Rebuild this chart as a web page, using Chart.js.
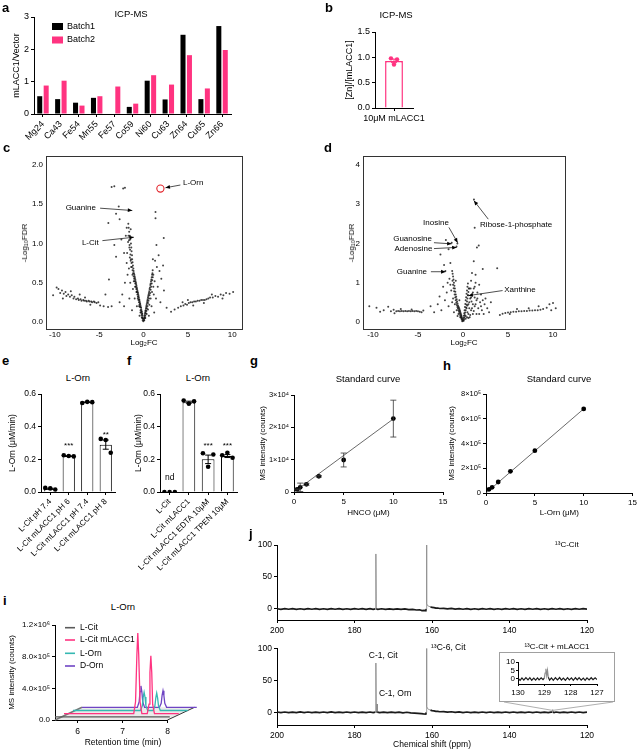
<!DOCTYPE html>
<html><head><meta charset="utf-8">
<script src="https://cdn.jsdelivr.net/npm/chart.js@4.4.1/dist/chart.umd.min.js"></script>
<style>
html,body{margin:0;padding:0;background:#fff;}
#root{position:relative;width:639px;height:750px;overflow:hidden;font-family:"Liberation Sans",Arial,Helvetica,sans-serif;background:#fff;}
canvas{position:absolute;}
.t{position:absolute;white-space:nowrap;line-height:1;color:#000;}
.rot{position:absolute;white-space:nowrap;line-height:1;color:#000;transform:translate(-50%,-50%) rotate(-90deg);}
.frame{position:absolute;border:1px solid #a0a0a0;box-sizing:border-box;}
</style></head><body><div id="root"></div>
<script>
// ---------------- DATA ----------------
// a: ICP-MS
const icpElements = ['Mg24','Ca43','Fe54','Mn55','Fe57','Co59','Ni60','Cu63','Zn64','Cu65','Zn66'];
const batch1 = [0.55,0.46,0.35,0.50,0,0.22,1.03,0.45,2.45,0.46,2.72];
const batch2 = [0.88,1.03,0.26,0.55,0.85,0.32,1.20,0.91,1.82,0.79,1.98];
const aYTicks = [0,1,2,3];
// b: [Zn]/[mLACC1]
const zLabel = ['10μM mLACC1'];
const zMean = [0.93];
const zSem = [0.035];
const zReps = [0.98,0.96,0.86];
const bYTicks = [0,0.5,1,1.5];
const bYLabels = ['0.0','0.5','1.0','1.5'];
// c: volcano 1  [log2FC, -log10FDR]
const cPts = [
[-9.8,0.44],[-9.6,0.42],[-9.4,0.37],[-9.2,0.40],[-9.0,0.36],[-8.8,0.38],[-8.7,0.33],[-8.5,0.35],[-8.3,0.32],[-8.1,0.34],[-7.9,0.30],[-7.8,0.32],[-7.6,0.29],[-7.4,0.30],[-7.3,0.28],[-7.1,0.29],[-7.0,0.27],[-6.8,0.28],[-6.7,0.27],[-6.5,0.27],[-6.4,0.26],[-6.2,0.27],[-6.1,0.26],[-5.9,0.26],[-5.8,0.25],[-5.6,0.26],[-5.5,0.25],[-5.3,0.24],[-5.1,0.25],[-4.9,0.21],[-4.5,0.2],[-4.0,0.19],[-3.6,0.2],[-9.1,0.30],[-8.2,0.39],[-7.2,0.35],[-6.6,0.31],[-6.0,0.22],[-10.2,0.34],
[3.1,0.13],[3.5,0.16],[3.9,0.18],[4.2,0.2],[4.5,0.21],[4.7,0.23],[4.9,0.22],[5.1,0.24],[5.3,0.25],[5.5,0.25],[5.7,0.26],[5.9,0.26],[6.1,0.27],[6.3,0.27],[6.5,0.28],[6.7,0.28],[6.9,0.28],[7.1,0.29],[7.3,0.3],[7.5,0.31],[7.8,0.31],[8.1,0.33],[8.4,0.32],[8.7,0.35],[9.0,0.34],[9.3,0.37],[9.7,0.36],[10.1,0.38],[4.4,0.25],[5.6,0.21],[6.8,0.24],[7.7,0.35],[8.9,0.3],[5.0,0.28],
[-0.03,0.01],[-0.06,0.04],[-0.09,0.05],[-0.12,0.08],[-0.14,0.1],[-0.17,0.11],[-0.2,0.13],[-0.23,0.14],[-0.26,0.16],[-0.28,0.18],[-0.32,0.19],[-0.35,0.21],[-0.38,0.23],[-0.41,0.24],[-0.44,0.26],[-0.47,0.28],[-0.5,0.29],[-0.53,0.31],[-0.56,0.33],[-0.6,0.35],[-0.63,0.37],[-0.66,0.38],[-0.7,0.4],[-0.73,0.42],[-0.76,0.44],[-0.8,0.46],[-0.83,0.48],[-0.86,0.5],[-0.9,0.52],[-0.93,0.54],[-0.97,0.56],[-1.0,0.58],[-1.04,0.6],[-1.08,0.62],[-1.12,0.65],[-1.15,0.68],[-1.2,0.72],[-1.24,0.76],[-1.28,0.8],[-1.3,0.85],[-1.35,0.9],[-1.38,0.95],[-1.42,1.0],[-1.5,1.05],[-1.55,1.1],[-1.62,1.15],[-1.68,1.2],[-1.72,1.25],
[-0.1,0.02],[-0.16,0.05],[-0.22,0.09],[-0.28,0.12],[-0.34,0.15],[-0.4,0.19],[-0.46,0.22],[-0.52,0.25],[-0.58,0.28],[-0.64,0.32],[-0.7,0.35],[-0.76,0.38],[-0.82,0.42],[-0.88,0.45],[-0.94,0.49],[-1.0,0.52],[-1.06,0.55],[-1.12,0.58],[-1.18,0.62],[-1.24,0.66],[-1.3,0.7],[-1.36,0.75],[-1.42,0.8],[-1.48,0.86],[-1.52,0.92],[-1.58,0.98],[-1.64,1.04],[-1.7,1.1],
[-0.2,0.06],[-0.35,0.12],[-0.5,0.2],[-0.65,0.3],[-0.8,0.38],[-0.95,0.45],[-1.1,0.52],[-1.25,0.6],[-1.4,0.7],[-1.55,0.82],[-1.6,0.95],[-1.75,1.02],[-1.85,0.88],[-1.45,0.78],[-1.65,0.68],[-1.9,0.75],[-1.2,0.42],[-1.0,0.3],[-0.75,0.2],[-0.45,0.08],[-1.5,0.5],[-1.8,0.6],[-2.1,0.5],[-2.4,0.35],[-2.2,0.2],[-1.6,0.3],[-2.7,0.25],[-1.3,0.15],[-2.0,1.1],[-1.9,1.2],[-1.45,1.18],
[0.03,0.02],[0.06,0.04],[0.09,0.06],[0.12,0.08],[0.15,0.1],[0.18,0.12],[0.21,0.14],[0.24,0.15],[0.27,0.17],[0.3,0.19],[0.33,0.21],[0.36,0.23],[0.4,0.25],[0.43,0.27],[0.46,0.29],[0.5,0.31],[0.53,0.33],[0.57,0.35],[0.6,0.37],[0.64,0.39],[0.68,0.42],[0.72,0.44],[0.76,0.47],[0.8,0.49],[0.84,0.52],[0.88,0.54],[0.92,0.57],[0.96,0.6],[1.0,0.62],[1.03,0.66],
[0.08,0.02],[0.14,0.05],[0.2,0.08],[0.26,0.11],[0.32,0.14],[0.38,0.17],[0.44,0.2],[0.5,0.24],[0.56,0.27],[0.62,0.3],[0.68,0.34],[0.74,0.37],[0.8,0.41],[0.86,0.45],[0.92,0.49],[0.98,0.53],[1.04,0.57],[1.1,0.6],
[0.2,0.05],[0.35,0.1],[0.5,0.16],[0.65,0.22],[0.8,0.3],[0.95,0.38],[1.1,0.45],[1.25,0.52],[1.15,0.35],[0.9,0.2],[0.6,0.08],[1.4,0.3],[1.6,0.45],[1.8,0.65],[1.5,0.7],[1.3,0.78],[1.7,0.85],[2.0,0.55],[2.3,0.4],[1.9,0.25],[2.6,0.18],[1.2,0.12],[2.2,0.72],[1.05,0.8],
[-3.6,1.72],[-3.3,1.73],[-2.3,1.7],[-2.1,1.71],[-2.8,1.47],[-2.7,1.31],[-3.1,1.38],[-3.97,1.26],[-3.3,0.98],[-3.1,0.83],[-3.9,0.54],[-4.3,0.35],[1.35,1.4],[1.35,1.32],[2.28,1.07],[1.45,0.98],[-2.5,1.05],[-2.2,0.88]
];
const cHighlight = [1.9,1.70];
const volXTicks = [-10,-5,0,5,10];
const cYTicks = [0,0.5,1,1.5,2];
const cYLabels = ['0.0','0.5','1.0','1.5','2.0'];
// d: volcano 2
const dPts = [
[-10.4,0.4],[-9.6,0.36],[-9.2,0.26],[-8.8,0.3],[-8.3,0.39],[-8.0,0.27],[-7.7,0.31],[-7.4,0.27],[-7.2,0.28],[-7.0,0.27],[-6.8,0.28],[-6.6,0.27],[-6.4,0.28],[-6.2,0.27],[-6.0,0.28],[-5.8,0.27],[-5.6,0.28],[-5.4,0.27],[-5.2,0.28],[-5.0,0.27],[-4.8,0.26],[-4.6,0.25],[-4.4,0.29],[-7.6,0.22],[-6.9,0.33],[-5.7,0.32],
[4.1,0.18],[4.4,0.21],[4.7,0.23],[5.0,0.24],[5.3,0.25],[5.6,0.26],[5.9,0.26],[6.2,0.27],[6.5,0.27],[6.8,0.28],[7.1,0.28],[7.4,0.29],[7.7,0.29],[8.0,0.3],[8.3,0.3],[8.6,0.31],[8.9,0.33],[9.3,0.36],[9.6,0.45],[10.0,0.48],[9.8,0.3],[8.4,0.4],[7.3,0.35],[6.0,0.33],[5.2,0.2],[10.3,0.35],
[-0.03,0.03],[-0.06,0.06],[-0.1,0.09],[-0.13,0.12],[-0.17,0.15],[-0.2,0.18],[-0.24,0.21],[-0.28,0.24],[-0.32,0.27],[-0.36,0.3],[-0.4,0.33],[-0.45,0.36],[-0.5,0.39],[-0.55,0.42],[-0.6,0.47],[-0.65,0.52],[-0.7,0.58],[-0.75,0.64],[-0.8,0.7],[-0.85,0.77],[-0.9,0.85],[-0.95,0.92],[-1.0,1.0],[-1.05,1.08],[-1.1,1.16],[-1.15,1.23],[-1.2,1.3],
[-0.08,0.02],[-0.14,0.06],[-0.2,0.1],[-0.26,0.14],[-0.32,0.18],[-0.38,0.22],[-0.44,0.26],[-0.5,0.3],[-0.56,0.34],[-0.62,0.38],[-0.68,0.43],[-0.74,0.49],[-0.8,0.55],[-0.86,0.62],[-0.92,0.7],[-0.98,0.78],[-1.04,0.86],[-1.1,0.95],[-1.16,1.05],
[-0.3,0.12],[-0.5,0.2],[-0.7,0.3],[-0.9,0.45],[-1.1,0.6],[-1.3,0.8],[-1.4,0.95],[-1.2,0.5],[-1.6,0.4],[-2.0,0.55],[-2.4,0.3],[-1.8,0.75],[-2.2,0.9],[-2.8,0.45],[-3.2,0.25],[-1.5,1.1],[-0.6,0.15],[-1.0,0.25],[-2.6,0.65],[-1.7,1.0],[-3.6,0.4],[-0.4,0.55],[-0.8,1.05],
[0.03,0.04],[0.07,0.1],[0.1,0.16],[0.14,0.22],[0.18,0.3],[0.22,0.38],[0.26,0.46],[0.3,0.55],[0.35,0.63],[0.4,0.72],[0.45,0.8],[0.5,0.9],[0.55,0.98],
[0.08,0.03],[0.12,0.07],[0.16,0.12],[0.2,0.18],[0.25,0.24],[0.3,0.3],[0.35,0.37],[0.4,0.44],[0.45,0.52],[0.5,0.6],[0.55,0.68],[0.6,0.76],[0.65,0.85],[0.3,0.08],[0.45,0.12],[0.6,0.1],[0.8,0.18],[1.0,0.35],[1.2,0.28],[1.4,0.45],[0.7,0.5],[0.9,0.62],[1.1,0.75],[1.3,0.9],[1.6,0.6],[1.8,0.2],[2.0,0.4],[2.2,0.55],[0.5,0.42],[0.85,0.85],
[0.3,0.15],[0.5,0.25],[0.7,0.35],[0.9,0.3],[1.1,0.45],[1.3,0.4],[1.5,0.55],[0.8,0.6],[1.0,0.7],[1.2,0.85],[0.6,0.45],[1.7,0.35],[1.9,0.5],[2.1,0.3],[2.4,0.45],[2.7,0.35],[2.9,0.25],[1.6,0.75],[2.0,0.7],[1.4,1.0],[0.9,1.05],[0.7,0.85],[1.1,0.2],[1.5,0.2],[2.3,0.2],[0.4,0.35],[0.6,0.2],[1.8,0.95],[2.5,0.6],[3.1,0.5],[1.3,0.62],[0.95,0.52],[0.75,0.12],
[-1.9,2.09],[-2.5,1.72],[-1.6,1.85],[-1.25,2.02],[-0.62,2.0],[-0.72,1.92],[-1.95,1.3],[-1.4,1.5],[-2.1,1.45],[1.22,3.12],[1.3,2.4],[1.55,1.9],[1.75,1.95],[1.2,1.55],[2.2,1.35],[3.8,1.37],[1.0,1.25],[1.4,1.2],[0.55,0.68]
];
const dYTicks = [0,1,2,3,4];
// e: L-Orn vs pH
const eLabels = ['L-Cit pH 7.4','L-Cit mLACC1 pH 6','L-Cit mLACC1 pH 7.4','L-Cit mLACC1 pH 8'];
const eMean = [0.02,0.22,0.55,0.29];
const eSem = [0.003,0.002,0.002,0.028];
const eReps = [[0.025,0.022,0.015],[0.225,0.22,0.218],[0.545,0.552,0.55],[0.325,0.318,0.24]];
// f: L-Orn with chelators
const fLabels = ['L-Cit','L-Cit mLACC1','L-Cit mLACC1 EDTA 10μM','L-Cit mLACC1 TPEN 10μM'];
const fMean = [0,0.55,0.20,0.22];
const fSem = [0,0.006,0.026,0.009];
const fReps = [[0,0,0],[0.56,0.54,0.555],[0.237,0.155,0.23],[0.225,0.24,0.21]];
const efYTicks = [0,0.2,0.4,0.6];
const efYLabels = ['0.0','0.2','0.4','0.6'];
// g: HNCO standard curve
const gConc = [0.3125,0.625,1.25,2.5,5,10];
const gMean = [800,1450,2380,4850,9900,22700];
const gErr = [150,1300,300,250,2150,5700];
const gFit = [[0,0],[10,22600]];
const gYTicks = [0,10000,20000,30000];
const gYLabels = ['0','1×10⁴','2×10⁴','3×10⁴'];
const ghXTicks = [0,5,10,15];
// h: L-Orn standard curve
const hConc = [0.3125,0.625,1.25,2.5,5,10];
const hMean = [30000,46000,89000,175000,342000,679000];
const hFit = [[0,0],[10,680000]];
const hYTicks = [0,200000,400000,600000,800000];
const hYLabels = ['0','2×10⁵','4×10⁵','6×10⁵','8×10⁵'];
// i: chromatograms [retention time (min), intensity]
const lCitTrace = [[5.5,0],[6.5,0],[7.5,0],[8.05,0]];
const lCitMTrace = [[5.5,0],[7.05,0],[7.09,150000],[7.12,750000],[7.14,1020000],[7.16,750000],[7.19,150000],[7.23,0],[7.35,0],[7.39,120000],[7.41,520000],[7.43,730000],[7.45,520000],[7.47,120000],[7.51,0],[8.05,0]];
const lOrnTrace = [[5.5,0],[7.0,0],[7.04,60000],[7.06,170000],[7.08,230000],[7.10,170000],[7.12,60000],[7.16,0],[7.28,0],[7.32,60000],[7.34,160000],[7.36,220000],[7.38,160000],[7.40,60000],[7.44,0],[8.05,0]];
const dOrnTrace = [[5.5,0],[6.73,0],[6.77,70000],[6.79,200000],[6.81,270000],[6.83,200000],[6.85,70000],[6.89,0],[7.22,0],[7.26,50000],[7.28,150000],[7.30,210000],[7.32,150000],[7.34,50000],[7.38,0],[8.05,0]];
const iNames = ['L-Cit','L-Cit mLACC1','L-Orn','D-Orn'];
const iYTicks = [0,400000,800000,1200000];
const iYLabels = ['0.0','4.0×10⁵','8.0×10⁵','1.2×10⁶'];
const iXTicks = [6,7,8];
// j: 13C NMR [ppm, intensity]
const nmrTop = [[200,0.4],[199,-0.5],[198,0.6],[197,-0.4],[196,0.5],[195,-0.6],[194,0.4],[193,-0.5],[192,0.6],[191,-0.4],[190,0.5],[189,-0.5],[188,0.4],[187,-0.6],[186,0.5],[185,-0.4],[184,0.6],[183,-0.5],[182,0.4],[181,-0.6],[180,0.5],[179,-0.4],[178,0.5],[177,-0.6],[176,0.4],[175.2,-0.5],[174.6,0.2],[174.48,86],[174.38,0.1],[174,-0.5],[173,0.4],[172,-0.6],[171,0.3],[170,-0.6],[169,0.3],[168,-0.7],[167,0.2],[166,-0.9],[165,-0.5],[164,-1.6],[163.2,-1.2],[162.6,-2.4],[162,-2.1],[161.6,-2.8],[161.5,0],[161.42,100],[161.32,8],[161.1,5],[160.8,4.2],[160.4,3.4],[160,2.4],[159.5,2.2],[159,1.4],[158.5,1.5],[158,0.8],[157,1.0],[156,0.2],[155,0.8],[154,-0.2],[153,0.6],[152,-0.4],[151,0.5],[150,-0.5],[149,0.4],[148,-0.5],[147,0.5],[146,-0.4],[145,0.5],[144,-0.5],[143,0.4],[142,-0.5],[141,0.5],[140,-0.4],[139,0.5],[138,-0.5],[137,0.4],[136,-0.5],[135,0.5],[134,-0.4],[133,0.5],[132,-0.5],[131,0.4],[130,-0.5],[129,0.5],[128,-0.4],[127,0.5],[126,-0.5],[125,0.4],[124,-0.5],[123,0.5],[122,-0.4],[121,0.5],[120,-0.3]];
const nmrBottom = [[200,0.5],[199,-0.4],[198,0.5],[197,-0.6],[196,0.4],[195,-0.5],[194,0.6],[193,-0.4],[192,0.5],[191,-0.6],[190,0.4],[189,-0.5],[188,0.5],[187,-0.4],[186,0.6],[185,-0.5],[184,0.4],[183,-0.6],[182,0.5],[181,-0.4],[180,0.5],[179,-0.6],[178,0.4],[177,-0.5],[176,0.5],[175.2,-0.4],[174.6,0.3],[174.48,77],[174.38,0.5],[174.26,1.2],[174.18,13],[174.1,0.4],[173.5,-0.5],[172.5,0.4],[171.5,-0.6],[170.5,0.3],[169.5,-0.6],[168.5,0.2],[167.5,-0.7],[166.5,0.1],[165.5,-0.9],[164.5,-1.2],[163.6,-1.5],[162.8,-2.0],[162.2,-2.5],[161.6,-2.9],[161.5,0],[161.42,100],[161.32,9],[161.1,5.5],[160.8,4.4],[160.4,3.5],[160,2.6],[159.5,2.3],[159,1.5],[158.5,1.6],[158,0.9],[157,1.1],[156,0.3],[155,0.9],[154,-0.2],[153,0.6],[152,-0.4],[151,0.5],[150,-0.5],[149,0.4],[148,-0.5],[147,0.5],[146,-0.4],[145,0.5],[144,-0.5],[143,0.4],[142,-0.5],[141,0.5],[140,-0.4],[139,0.5],[138,-0.5],[137,0.4],[136,-0.5],[135,0.5],[134,-0.4],[133,0.5],[132,-0.5],[131,0.4],[130,-0.5],[129.3,0.4],[128.98,0.3],[128.9,4.2],[128.82,0.3],[128.5,-0.4],[128,0.5],[127,-0.5],[126,0.4],[125,-0.5],[124,0.5],[123,-0.4],[122,0.5],[121,-0.4],[120,0.3]];
const nmrInset = [[130,0.3],[129.92,-0.8],[129.85,0.6],[129.78,-0.7],[129.7,0.8],[129.62,-0.6],[129.55,0.7],[129.48,-0.8],[129.4,0.5],[129.33,-0.7],[129.26,0.6],[129.2,-0.6],[129.12,0.7],[129.05,-0.4],[129.0,0.5],[128.97,3.5],[128.94,6],[128.91,2],[128.88,5],[128.85,1],[128.8,-0.7],[128.73,0.6],[128.66,-0.8],[128.58,0.7],[128.5,-0.6],[128.42,0.8],[128.35,-0.7],[128.28,0.5],[128.2,-0.8],[128.12,0.7],[128.05,-0.6],[127.97,0.6],[127.9,-0.8],[127.82,0.7],[127.75,-0.5],[127.68,0.8],[127.6,-0.7],[127.52,0.5],[127.45,-0.8],[127.38,0.6],[127.3,-0.6],[127.22,0.7],[127.15,-0.5],[127.07,0.6],[127,-0.3]];
const jXTicks = [200,180,160,140,120];
const jYTicks = [0,50,100];
const insetXTicks = [130,129,128,127];
const insetYTicks = [0,5,10];

// ---------------- STYLE / HELPERS ----------------
const FONT = '"Liberation Sans", Arial, Helvetica, sans-serif';
const PINK = '#ff3380', TEAL = '#36b8b2', PURPLE = '#6f45c4', GRAY = '#5a5a5a';
Chart.defaults.font.family = FONT; Chart.defaults.font.size = 8; Chart.defaults.color = '#000';
Chart.defaults.animation = false;
const root = document.getElementById('root');

function place(cv){ const c=document.createElement('canvas'); c.width=cv.w; c.height=cv.h;
  c.style.left=cv.x+'px'; c.style.top=cv.y+'px'; c.style.width=cv.w+'px'; c.style.height=cv.h+'px'; root.appendChild(c); return c; }
function geo(cv,p){ return {padding:{left:0, top:p.t-cv.y, right:cv.x+cv.w-p.r, bottom:0}, yW:p.l-cv.x, xH:cv.y+cv.h-p.b}; }
function merge(a,b){ const o=Object.assign({},a); for(const k in b){ const v=b[k];
  if(v && typeof v==='object' && !Array.isArray(v) && a && a[k] && typeof a[k]==='object' && !Array.isArray(a[k])) o[k]=merge(a[k],v); else o[k]=v; } return o; }
function ax(kind,g,o){ const base={
  grid:{display:true,drawOnChartArea:false,drawTicks:true,tickLength:3,color:'#000',lineWidth:1,offset:false},
  border:{display:true,color:'#000',width:1},
  ticks:{color:'#000',padding:2,font:{size:8},autoSkip:false,maxRotation:0,minRotation:0}};
  if(kind==='x') base.afterFit=s=>{s.height=g.xH;}; else base.afterFit=s=>{s.width=g.yW;};
  return merge(base,o||{}); }
function fixTicks(vals){ return s=>{ s.ticks=vals.map(v=>({value:v})); }; }
function ttl(text,size,pad){ return {display:true,text,color:'#000',font:{size},padding:pad}; }
function opts(g,scales,plugins){ return {responsive:false,maintainAspectRatio:false,animation:false,
  layout:{padding:g.padding,autoPadding:false}, scales,
  plugins:Object.assign({legend:{display:false},tooltip:{enabled:false}},plugins||{})}; }
function txt(s,x,base,size,o){ o=o||{}; const d=document.createElement('div'); d.className='t'; d.textContent=s;
  d.style.fontSize=size+'px'; d.style.top=(base-0.847*size)+'px'; d.style.left=x+'px';
  if(!o.left) d.style.transform='translateX(-50%)'; if(o.bold) d.style.fontWeight='bold'; root.appendChild(d); }
function vtxt(s,cx,cy,size){ const d=document.createElement('div'); d.className='rot'; d.textContent=s; d.style.fontSize=size+'px';
  d.style.left=cx+'px'; d.style.top=cy+'px'; root.appendChild(d); }

// plugins
const errBars={id:'errBars',afterDatasetsDraw(chart,a,o){ if(!o.items) return; const ctx=chart.ctx;
  const xs=chart.scales[o.xAxis||'x'], ys=chart.scales.y; ctx.save(); ctx.strokeStyle=o.color||'#000'; ctx.lineWidth=o.width||1;
  o.items.forEach(it=>{ if(!it.e) return; const px=xs.getPixelForValue(it.x), y1=ys.getPixelForValue(it.y-it.e), y2=ys.getPixelForValue(it.y+it.e), c=o.cap||3;
    ctx.beginPath(); ctx.moveTo(px,y1); ctx.lineTo(px,y2); ctx.moveTo(px-c,y1); ctx.lineTo(px+c,y1); ctx.moveTo(px-c,y2); ctx.lineTo(px+c,y2); ctx.stroke(); });
  ctx.restore(); }};
const notes={id:'notes',afterDraw(chart,a,o){ if(!o.items) return; const ctx=chart.ctx; const xs=chart.scales.x, ys=chart.scales.y; ctx.save();
  o.items.forEach(it=>{
    if(it.arrow){ const [x1,y1,x2,y2]=it.arrow; const A=xs.getPixelForValue(x1),B=ys.getPixelForValue(y1),C=xs.getPixelForValue(x2),D=ys.getPixelForValue(y2);
      ctx.strokeStyle='#222'; ctx.fillStyle='#000'; ctx.lineWidth=0.8; ctx.beginPath(); ctx.moveTo(A,B); ctx.lineTo(C,D); ctx.stroke();
      const an=Math.atan2(D-B,C-A), L=4.5, W=1.9; ctx.beginPath(); ctx.moveTo(C,D);
      ctx.lineTo(C-L*Math.cos(an)+W*Math.sin(an), D-L*Math.sin(an)-W*Math.cos(an));
      ctx.lineTo(C-L*Math.cos(an)-W*Math.sin(an), D-L*Math.sin(an)+W*Math.cos(an)); ctx.closePath(); ctx.fill(); }
    if(it.text){ ctx.font=(it.size||o.size||8)+'px '+FONT; ctx.fillStyle='#000'; ctx.textAlign=it.align||'center'; ctx.textBaseline='middle';
      ctx.fillText(it.text, xs.getPixelForValue(it.x), ys.getPixelForValue(it.y)); }
  }); ctx.restore(); }};
const boxPlugin={id:'box',afterDraw(chart,a,o){ if(!o.color) return; const {ctx,chartArea:c}=chart; ctx.save(); ctx.strokeStyle=o.color; ctx.lineWidth=1;
  ctx.strokeRect(Math.round(c.left)+0.5,Math.round(c.top)+0.5,Math.round(c.right-c.left),Math.round(c.bottom-c.top)); ctx.restore(); }};
const miniLegend={id:'miniLegend',afterDraw(chart,a,o){ if(!o.items) return; const ctx=chart.ctx; ctx.save(); ctx.font=o.size+'px '+FONT; ctx.textBaseline='middle'; ctx.textAlign='left';
  chart.data.datasets.forEach((ds,i)=>{ const it=o.items[i]; if(!it) return;
    if(o.kind==='box'){ ctx.fillStyle=ds.backgroundColor; ctx.fillRect(it[0],it[1]-o.bh/2,o.bw,o.bh); }
    else { ctx.strokeStyle=ds.borderColor; ctx.lineWidth=1.6; ctx.beginPath(); ctx.moveTo(it[0],it[1]); ctx.lineTo(it[0]+o.bw,it[1]); ctx.stroke(); }
    ctx.fillStyle='#000'; ctx.fillText(ds.label,it[0]+o.bw+o.gap,it[1]); }); ctx.restore(); }};
const floor3d={id:'floor3d',beforeDatasetsDraw(chart,a,o){ if(!o.x0) return; const ctx=chart.ctx, xs=chart.scales.x, ys=chart.scales.y;
  const P=(x,y)=>[xs.getPixelForValue(x),ys.getPixelForValue(y)];
  const FL=P(o.x0,0),FR=P(o.x1,0),BR=P(o.x1+o.dx,o.dy),BL=P(o.x0+o.dx,o.dy);
  ctx.save(); ctx.fillStyle='rgba(160,160,160,0.22)'; ctx.beginPath(); ctx.moveTo(...FL); ctx.lineTo(...FR); ctx.lineTo(...BR); ctx.lineTo(...BL); ctx.closePath(); ctx.fill();
  ctx.strokeStyle='#777'; ctx.lineWidth=1.6; ctx.beginPath(); ctx.moveTo(...FL); ctx.lineTo(...BL); ctx.stroke();
  ctx.lineWidth=1; ctx.strokeStyle='#333'; ctx.beginPath(); ctx.moveTo(...FR); ctx.lineTo(...BR); ctx.stroke(); ctx.restore(); }};
const connect={id:'connect',afterDraw(chart,a,o){ if(!o.from) return; const ctx=chart.ctx; const px=chart.scales.x.getPixelForValue(o.to[0]), py=chart.scales.y.getPixelForValue(o.to[1]);
  ctx.save(); ctx.strokeStyle='#9a9a9a'; ctx.lineWidth=0.8; o.from.forEach(([fx,fy])=>{ ctx.beginPath(); ctx.moveTo(fx,fy); ctx.lineTo(px,py); ctx.stroke(); }); ctx.restore(); }};

const toXY = arr => arr.map(([x,y])=>({x,y}));
const JIT = [-0.27,0,0.27];

// ---------------- PANEL a ----------------
{ const cv={x:0,y:5,w:238,h:140}, g=geo(cv,{l:34,r:231,t:17,b:114});
  new Chart(place(cv),{type:'bar',data:{labels:icpElements,datasets:[
    {label:'Batch1',data:batch1,backgroundColor:'#000',barPercentage:0.78,categoryPercentage:0.72},
    {label:'Batch2',data:batch2,backgroundColor:PINK,barPercentage:0.78,categoryPercentage:0.72}]},
  options:opts(g,{
    x:ax('x',g,{ticks:{font:{size:9},maxRotation:45,minRotation:45}}),
    y:ax('y',g,{min:0,max:3,afterBuildTicks:fixTicks(aYTicks),ticks:{font:{size:9}},title:ttl('mLACC1/Vector',9,{top:11.6,bottom:0})})
  },{miniLegend:{kind:'box',size:9,bw:11,bh:7,gap:4,items:[[52,21.5],[52,35]]}}),
  plugins:[miniLegend]}); }

// ---------------- PANEL b ----------------
{ const cv={x:340,y:20,w:110,h:112}, g=geo(cv,{l:375,r:413,t:32,b:108}); const bJ=[-0.08,0.08,0];
  new Chart(place(cv),{type:'bar',data:{labels:zLabel,datasets:[
    {type:'scatter',label:'replicates',data:zReps.map((v,j)=>({x:bJ[j],y:v})),xAxisID:'xd',backgroundColor:PINK,borderWidth:0,pointRadius:2.2,order:0},
    {label:'[Zn]/[mLACC1]',data:zMean,backgroundColor:'#fff',borderColor:PINK,borderWidth:1.5,barPercentage:0.47,categoryPercentage:1,grouped:false,order:1}]},
  options:opts(g,{
    x:ax('x',g,{ticks:{font:{size:9}}}),
    xd:{type:'linear',display:false,offset:false,grid:{offset:false},min:-0.5,max:0.5},
    y:ax('y',g,{min:0,max:1.5,afterBuildTicks:fixTicks(bYTicks),ticks:{font:{size:9},callback:(v,i)=>bYLabels[i]},title:ttl('[Zn]/[mLACC1]',9,{top:4.6,bottom:0})})
  },{errBars:{color:PINK,width:1,cap:3,items:zMean.map((m,i)=>({x:i,y:m,e:zSem[i]}))}}),
  plugins:[errBars]}); }

// ---------------- PANEL c ----------------
const cNotes=[
  {text:'L-Orn',x:5.6,y:1.77},{arrow:[4.15,1.745,2.47,1.71]},
  {text:'Guanine',x:-7.08,y:1.456},{arrow:[-4.9,1.45,-1.27,1.42]},
  {text:'L-Cit',x:-6.0,y:1.01},{arrow:[-4.64,1.036,-1.09,1.08]}];
{ const cv={x:0,y:148,w:250,h:203}, g=geo(cv,{l:46,r:242,t:156,b:329});
  new Chart(place(cv),{type:'scatter',data:{datasets:[
    {label:'L-Orn',data:[{x:cHighlight[0],y:cHighlight[1]}],pointRadius:3.6,borderColor:'#e3242b',borderWidth:1.1,backgroundColor:'rgba(0,0,0,0)',order:0},
    {label:'metabolites',data:toXY(cPts),pointRadius:1,backgroundColor:'rgba(20,20,20,0.8)',borderWidth:0,order:1}]},
  options:opts(g,{
    x:ax('x',g,{min:-11,max:11.1,afterBuildTicks:fixTicks(volXTicks),grid:{display:false,drawTicks:false},border:{display:false},ticks:{padding:1},title:ttl('Log₂FC',8,{top:0,bottom:3.2})}),
    y:ax('y',g,{min:-0.09,max:2.115,afterBuildTicks:fixTicks(cYTicks),grid:{display:false,drawTicks:false},border:{display:false},ticks:{padding:3,callback:(v,i)=>cYLabels[i]}})
  },{box:{color:'#333'},notes:{items:cNotes}}),
  plugins:[boxPlugin,notes]}); }

// ---------------- PANEL d ----------------
const dNotes=[
  {text:'Ribose-1-phosphate',x:5.9,y:2.47},{arrow:[2.81,2.62,1.22,3.09]},
  {text:'Inosine',x:-3.0,y:2.53},{arrow:[-1.56,2.41,-0.59,2.02]},
  {text:'Guanosine',x:-5.6,y:2.11},{arrow:[-3.22,2.02,-1.26,1.99]},
  {text:'Adenosine',x:-5.5,y:1.86},{arrow:[-3.22,1.87,-0.7,1.9]},
  {text:'Guanine',x:-5.67,y:1.28},{arrow:[-3.56,1.28,-1.93,1.28]},
  {text:'Xanthine',x:6.33,y:0.83},{arrow:[4.4,0.8,0.6,0.67]}];
{ const cv={x:322,y:148,w:250,h:203}, g=geo(cv,{l:363,r:565,t:156,b:329});
  new Chart(place(cv),{type:'scatter',data:{datasets:[
    {label:'metabolites',data:toXY(dPts),pointRadius:1,backgroundColor:'rgba(20,20,20,0.8)',borderWidth:0}]},
  options:opts(g,{
    x:ax('x',g,{min:-11.1,max:11.33,afterBuildTicks:fixTicks(volXTicks),grid:{display:false,drawTicks:false},border:{display:false},ticks:{padding:1},title:ttl('Log₂FC',8,{top:0,bottom:3.2})}),
    y:ax('y',g,{min:-0.18,max:4.23,afterBuildTicks:fixTicks(dYTicks),grid:{display:false,drawTicks:false},border:{display:false},ticks:{padding:3}})
  },{box:{color:'#333'},notes:{items:dNotes}}),
  plugins:[boxPlugin,notes]}); }

// ---------------- PANELS e, f ----------------
function barDots(cv,plot,labels,mean,sem,reps,stars,ytitle,ytitlePad){
  const g=geo(cv,plot); const dots=[]; reps.forEach((r,i)=>r.forEach((v,j)=>dots.push({x:i+JIT[j],y:v})));
  new Chart(place(cv),{type:'bar',data:{labels,datasets:[
    {type:'scatter',label:'replicates',data:dots,xAxisID:'xd',backgroundColor:'#000',borderWidth:0,pointRadius:2.3,order:0},
    {label:'L-Orn',data:mean,backgroundColor:'#fff',borderColor:'#000',borderWidth:1,barPercentage:0.66,categoryPercentage:1,grouped:false,order:1}]},
  options:opts(g,{
    x:ax('x',g,{ticks:{font:{size:8},maxRotation:45,minRotation:45}}),
    xd:{type:'linear',display:false,offset:false,grid:{offset:false},min:-0.5,max:labels.length-0.5},
    y:ax('y',g,{min:0,max:0.6,afterBuildTicks:fixTicks(efYTicks),ticks:{font:{size:8.5},callback:(v,i)=>efYLabels[i]},title:ttl(ytitle,8.5,{top:ytitlePad,bottom:0})})
  },{errBars:{color:'#000',width:1,cap:3,items:mean.map((m,i)=>({x:i,y:m,e:sem[i]}))},notes:{size:8,items:stars}}),
  plugins:[errBars,notes]}); }
barDots({x:0,y:386,w:125,h:189},{l:41,r:115,t:394,b:492},eLabels,eMean,eSem,eReps,
  [{text:'***',x:1,y:0.28},{text:'**',x:3,y:0.35}],'L-Orn (μM/min)',7.9);
barDots({x:125,y:386,w:122,h:189},{l:160,r:237,t:394,b:492},fLabels,fMean,fSem,fReps,
  [{text:'nd',x:0,y:0.088,size:8.5},{text:'***',x:2,y:0.28},{text:'***',x:3,y:0.28}],'L-Orn (μM/min)',8.9);

// ---------------- PANELS g, h ----------------
function stdCurve(cv,plot,conc,mean,err,fit,xmax,ymax,yT,yL,xtitle,ytitlePad){
  const g=geo(cv,plot);
  new Chart(place(cv),{type:'scatter',data:{datasets:[
    {label:'standard',data:conc.map((x,i)=>({x,y:mean[i]})),backgroundColor:'#000',borderWidth:0,pointRadius:2.4,order:0},
    {type:'line',label:'fit',data:toXY(fit),borderColor:'#444',borderWidth:0.8,pointRadius:0,order:1}]},
  options:opts(g,{
    x:ax('x',g,{min:0,max:xmax,afterBuildTicks:fixTicks(ghXTicks),ticks:{font:{size:8}},title:ttl(xtitle,8,{top:0,bottom:2.2})}),
    y:ax('y',g,{min:0,max:ymax,afterBuildTicks:fixTicks(yT),ticks:{font:{size:7.5},callback:(v,i)=>yL[i]},title:ttl('MS intensity (counts)',8,{top:ytitlePad,bottom:0})})
  },{errBars:{color:'#333',width:0.8,cap:3,items:err?conc.map((x,i)=>({x,y:mean[i],e:err[i]})):[]}}),
  plugins:[errBars]}); }
stdCurve({x:245,y:386,w:205,h:134},{l:294,r:443,t:395,b:492},gConc,gMean,gErr,gFit,15,30000,gYTicks,gYLabels,'HNCO (μM)',13.2);
stdCurve({x:445,y:386,w:194,h:134},{l:486,r:633,t:394,b:493},hConc,hMean,null,hFit,15,800000,hYTicks,hYLabels,'L-Orn (μM)',2.2);

// ---------------- PANEL i ----------------
{ const cv={x:0,y:615,w:200,h:135}, g=geo(cv,{l:55,r:167.5,t:625,b:720});
  const DX=0.2, DY=40000; const traces=[lCitTrace,lCitMTrace,lOrnTrace,dOrnTrace], cols=[GRAY,PINK,TEAL,PURPLE];
  new Chart(place(cv),{type:'line',data:{datasets:traces.map((tr,k)=>({label:iNames[k],
      data:tr.map(([t,v])=>({x:t+k*DX,y:v+(k+1)*DY})),borderColor:cols[k],borderWidth:1.3,pointRadius:0,clip:false,order:k,tension:0}))},
  options:opts(g,{
    x:ax('x',g,{type:'linear',min:5.5,max:8.0,afterBuildTicks:fixTicks(iXTicks),ticks:{font:{size:8.5},padding:4}}),
    y:ax('y',g,{min:0,max:1200000,afterBuildTicks:fixTicks(iYTicks),ticks:{font:{size:8},callback:(v,i)=>iYLabels[i]},title:ttl('MS intensity (counts)',8,{top:7.2,bottom:0})})
  },{floor3d:{x0:5.5,x1:8.0,dx:3*DX,dy:4*DY},miniLegend:{kind:'line',size:8.5,bw:10,gap:5,items:[[65,12.7],[65,25],[65,38.3],[65,51]]}}),
  plugins:[floor3d,miniLegend]}); }

// ---------------- PANEL j ----------------
const nmrSeg={borderColor:c=>(Math.abs(c.p0.parsed.y)>3.5||Math.abs(c.p1.parsed.y)>3.5)?'#8c8c8c':'#1a1a1a',
              borderWidth:c=>(Math.abs(c.p0.parsed.y)>3.5||Math.abs(c.p1.parsed.y)>3.5)?0.9:1.7};
function nmr(cv,plot,data,ymin,withTitle,noteItems,extra,plugs){
  const g=geo(cv,plot);
  new Chart(place(cv),{type:'line',data:{datasets:[{label:'13C NMR',data:toXY(data),borderColor:'#1a1a1a',borderWidth:1.5,pointRadius:0,tension:0,segment:nmrSeg}]},
  options:opts(g,{
    x:ax('x',g,{type:'linear',reverse:true,min:120,max:200,afterBuildTicks:fixTicks(jXTicks),ticks:{font:{size:8.5},padding:3},
       title:withTitle?ttl('Chemical shift (ppm)',8.5,{top:0,bottom:0}):{display:false}}),
    y:ax('y',g,{min:ymin,max:100,afterBuildTicks:fixTicks(jYTicks),ticks:{font:{size:8.5}}})
  },Object.assign({notes:{size:8.5,items:noteItems}},extra||{})),
  plugins:[notes].concat(plugs||[])}); }
nmr({x:240,y:537,w:399,h:101},{l:277,r:587,t:545,b:620},nmrTop,-17.2,false,[{text:'¹³C-Cit',x:125.2,y:100,size:8}]);
nmr({x:240,y:640,w:399,h:110},{l:277,r:587,t:648.3,b:725},nmrBottom,-19.8,true,
  [{text:'C-1, Cit',x:172.6,y:88},{text:'C-1, Orn',x:169.5,y:29.7},{text:'¹³C-6, Cit',x:155.8,y:101.7}],
  {connect:{from:[[264,62],[373,62]],to:[128.9,3]}},[connect]);
// inset
{ const fr=document.createElement('div'); fr.className='frame'; fr.style.cssText='left:499px;top:652px;width:116px;height:50px;'; root.appendChild(fr);
  const cv={x:500,y:653,w:115,h:48}, g=geo(cv,{l:518,r:597,t:662,b:684});
  new Chart(place(cv),{type:'line',data:{datasets:[{label:'13C-Cit + mLACC1',data:toXY(nmrInset),borderColor:'#1a1a1a',borderWidth:1.2,pointRadius:0,tension:0,
     segment:{borderColor:c=>(c.p0.parsed.y>1.5||c.p1.parsed.y>1.5)?'#8c8c8c':'#1a1a1a'}}]},
  options:opts(g,{
    x:ax('x',g,{type:'linear',reverse:true,min:127,max:130,afterBuildTicks:fixTicks(insetXTicks),grid:{tickLength:2},ticks:{font:{size:8},padding:1.5}}),
    y:ax('y',g,{min:-3,max:10,afterBuildTicks:fixTicks(insetYTicks),grid:{tickLength:2},ticks:{font:{size:8},padding:1}})
  })}); }

// ---------------- TEXT ----------------
[['a',2,12],['b',325,12],['c',3,152],['d',324,152],['e',2,365],['f',127,365],['g',250,365],['h',443,370],['i',3,605],['j',249,538]]
  .forEach(([s,x,b])=>txt(s,x,b,13,{left:true,bold:true}));
txt('ICP-MS',131,17.5,9.5); txt('ICP-MS',396,18,9.5);
txt('L-Orn',78,381,9.5); txt('L-Orn',198,381,9.5);
txt('Standard curve',368,382,9.5); txt('Standard curve',559,382,9.5);
txt('L-Orn',123,610,9.5);
txt('Retention time (min)',123,745,8.5);
txt('¹³C-Cit + mLACC1',557,650,8);
vtxt('-Log₁₀FDR',25,242.5,8);
vtxt('-Log₁₀FDR',352,242.5,8);
</script></body></html>
